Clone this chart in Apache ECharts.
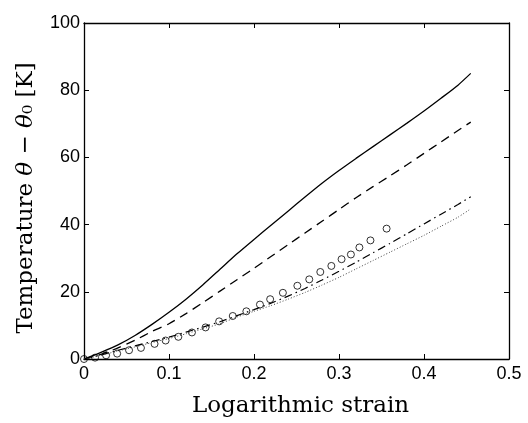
<!DOCTYPE html>
<html>
<head>
<meta charset="utf-8">
<script src="https://cdn.jsdelivr.net/npm/echarts@6/dist/echarts.min.js"></script>
<style>html,body{margin:0;padding:0;background:#fff;}#c{width:528px;height:423px;}</style>
</head>
<body>
<div id="c"></div>
<script>
const lineX    = [0, 0.02, 0.04, 0.06, 0.08, 0.10, 0.12, 0.14, 0.16, 0.18, 0.20, 0.22, 0.24, 0.26, 0.28, 0.30, 0.32, 0.34, 0.36, 0.38, 0.40, 0.42, 0.44, 0.455];
const solidT   = [0, 2.0, 4.2, 7.0, 10.3, 13.9, 17.8, 22.1, 26.7, 31.3, 35.6, 39.8, 44.0, 48.2, 52.3, 56.1, 59.7, 63.2, 66.7, 70.2, 73.8, 77.6, 81.5, 85.0];
const dashedT  = [0, 1.4, 3.3, 5.6, 8.2, 10.5, 13.5, 16.8, 20.2, 23.6, 27.0, 30.5, 34.0, 37.5, 41.0, 44.5, 48.0, 51.3, 54.5, 57.8, 61.2, 64.6, 68.0, 70.5];
const dashDotT = [0, 1.2, 2.6, 3.9, 5.2, 6.5, 8.0, 9.5, 11.1, 12.9, 14.7, 16.6, 18.7, 21.0, 23.5, 26.1, 28.8, 31.6, 34.4, 37.3, 40.2, 43.1, 46.0, 48.3];
const dottedT  = [0, 1.1, 2.4, 3.6, 4.9, 6.1, 7.5, 9.0, 10.5, 12.5, 14.2, 15.9, 17.8, 19.8, 22.0, 24.3, 26.8, 29.3, 31.8, 34.3, 36.8, 39.5, 42.2, 44.7];
const expX     = [0, 0.013, 0.026, 0.039, 0.053, 0.067, 0.083, 0.096, 0.111, 0.127, 0.143, 0.159, 0.175, 0.191, 0.207, 0.219, 0.234, 0.251, 0.265, 0.278, 0.291, 0.303, 0.314, 0.324, 0.337, 0.356];
const expT     = [0, 0.4, 1.1, 1.6, 2.6, 3.3, 4.5, 5.5, 6.6, 7.9, 9.4, 11.2, 12.8, 14.2, 16.2, 17.8, 19.7, 21.8, 23.7, 25.9, 27.7, 29.7, 31.1, 33.2, 35.3, 38.8];
const xTicks   = [0, 0.1, 0.2, 0.3, 0.4, 0.5];
const yTicks   = [0, 20, 40, 60, 80, 100];

const pair = (xs, ys) => xs.map((x, i) => [x, ys[i]]);
const chart = echarts.init(document.getElementById('c'), null, {renderer: 'canvas'});
const labelFont = {color: '#000', fontFamily: 'Liberation Sans, Arial, sans-serif', fontSize: 18};
const serif = 'DejaVu Serif, Liberation Serif, serif';
const axisCommonX = {
  type: 'value', min: xTicks[0], max: xTicks[xTicks.length - 1], interval: 0.1,
  axisLine: {show: true, onZero: false, lineStyle: {color: '#000', width: 1.3}},
  axisTick: {show: true, inside: true, length: 5, lineStyle: {color: '#000', width: 1}},
  splitLine: {show: false}
};
const axisCommonY = {
  type: 'value', min: yTicks[0], max: yTicks[yTicks.length - 1], interval: 20,
  axisLine: {show: true, onZero: false, lineStyle: {color: '#000', width: 1.3}},
  axisTick: {show: true, inside: true, length: 5, lineStyle: {color: '#000', width: 1}},
  splitLine: {show: false}
};
const lineBase = {type: 'line', showSymbol: false, symbol: 'none', smooth: 0.2, animation: false, xAxisIndex: 0, yAxisIndex: 0};
chart.setOption({
  backgroundColor: '#fff',
  animation: false,
  grid: {left: 84, right: 19, top: 23, bottom: 62, containLabel: false},
  xAxis: [
    Object.assign({}, axisCommonX, {
      position: 'bottom',
      axisLabel: Object.assign({}, labelFont, {margin: 6, formatter: v => String(v)}),
      name: 'Logarithmic strain', nameLocation: 'middle', nameGap: 36,
      nameTextStyle: {color: '#000', fontFamily: serif, fontSize: 23, padding: [0, 0, 0, 8]}
    }),
    Object.assign({}, axisCommonX, {position: 'top', axisLabel: {show: false}})
  ],
  yAxis: [
    Object.assign({}, axisCommonY, {
      position: 'left',
      axisLabel: Object.assign({}, labelFont, {margin: 4}),
      name: 'Temperature {i|θ} − {i|θ}₀ [K]', nameLocation: 'middle', nameGap: 46,
      nameTextStyle: {color: '#000', fontFamily: serif, fontSize: 23, padding: [0, 14, 0, 0],
        rich: {i: {fontStyle: 'italic', fontFamily: serif, fontSize: 23, color: '#000'}}}
    }),
    Object.assign({}, axisCommonY, {position: 'right', axisLabel: {show: false}})
  ],
  series: [
    Object.assign({}, lineBase, {name: 'solid', data: pair(lineX, solidT), lineStyle: {color: '#000', width: 1.3, type: 'solid'}}),
    Object.assign({}, lineBase, {name: 'dashed', data: pair(lineX, dashedT), lineStyle: {color: '#000', width: 1.3, type: [9, 6]}}),
    Object.assign({}, lineBase, {name: 'dashdot', data: pair(lineX, dashDotT), lineStyle: {color: '#000', width: 1.2, type: [8, 4, 1.5, 4]}}),
    Object.assign({}, lineBase, {name: 'dotted', data: pair(lineX, dottedT), lineStyle: {color: '#444', width: 1, type: [1, 2]}}),
    {type: 'scatter', name: 'exp', data: pair(expX, expT), symbol: 'circle', symbolSize: 7, animation: false,
      itemStyle: {color: 'rgba(255,255,255,0)', borderColor: '#000', borderWidth: 1}}
  ]
});
</script>
</body>
</html>
